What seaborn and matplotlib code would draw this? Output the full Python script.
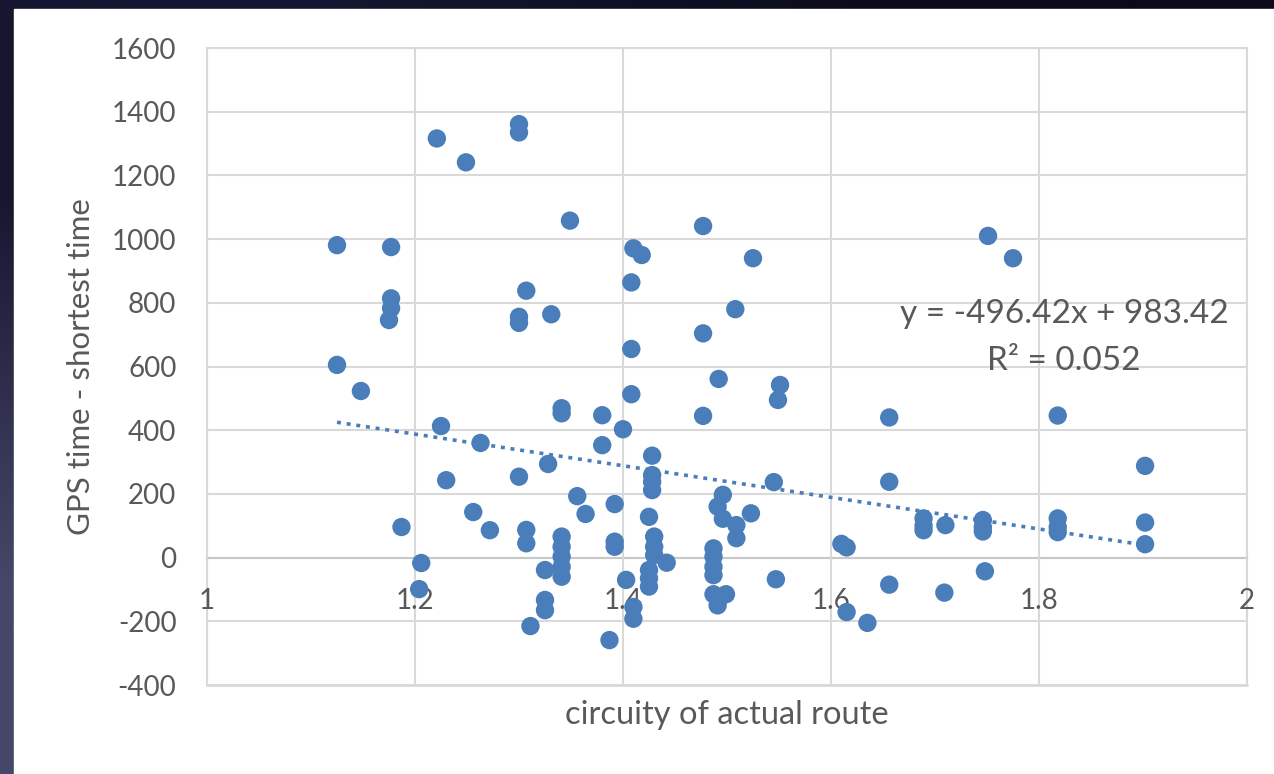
import numpy as np
import matplotlib.pyplot as plt
from matplotlib.patches import Rectangle
import seaborn as sns

# circuity of actual route vs (GPS time - shortest time)
circuity = [
    1.125, 1.125, 1.148, 1.177, 1.177, 1.177, 1.175, 1.187, 1.206, 1.204,
    1.221, 1.249, 1.225, 1.230, 1.256, 1.263, 1.272, 1.300, 1.300, 1.300,
    1.300, 1.307, 1.331, 1.349, 1.300, 1.307, 1.307, 1.328, 1.341, 1.341,
    1.341, 1.341, 1.341, 1.341, 1.341, 1.325, 1.325, 1.325, 1.311, 1.356,
    1.364, 1.380, 1.380, 1.400, 1.408, 1.392, 1.392, 1.392, 1.403, 1.410,
    1.410, 1.387, 1.410, 1.418, 1.408, 1.408, 1.477, 1.525, 1.508, 1.477,
    1.492, 1.551, 1.549, 1.477, 1.428, 1.428, 1.428, 1.428, 1.425, 1.430,
    1.430, 1.430, 1.442, 1.425, 1.425, 1.425, 1.545, 1.496, 1.491, 1.496,
    1.509, 1.523, 1.509, 1.487, 1.487, 1.487, 1.487, 1.487, 1.493, 1.499,
    1.491, 1.547, 1.610, 1.615, 1.615, 1.635, 1.656, 1.656, 1.656, 1.689,
    1.689, 1.689, 1.710, 1.709, 1.746, 1.746, 1.746, 1.748, 1.751, 1.775,
    1.818, 1.818, 1.818, 1.818, 1.902, 1.902, 1.902,
]
time_diff = [
    981, 605, 523, 975, 814, 783, 746, 96, -17, -99,
    1316, 1241, 413, 243, 143, 360, 86, 1361, 1335, 756,
    737, 838, 764, 1058, 254, 87, 45, 294, 469, 453,
    66, 34, 3, -29, -60, -39, -133, -165, -215, 193,
    137, 447, 353, 403, 513, 168, 50, 34, -70, -155,
    -192, -259, 971, 950, 864, 655, 1041, 940, 780, 704,
    561, 542, 495, 445, 320, 259, 238, 212, 128, 66,
    34, 8, -16, -39, -65, -91, 237, 197, 160, 122,
    102, 139, 61, 29, 3, -29, -55, -115, -125, -115,
    -150, -68, 43, 32, -171, -205, 440, 238, -85, 123,
    100, 86, 102, -110, 118, 96, 82, -43, 1010, 940,
    446, 123, 96, 80, 288, 110, 42,
]

# linear trendline as printed on the chart
slope = -496.42
intercept = 983.42
r_squared = 0.052

x_ticks = [1, 1.2, 1.4, 1.6, 1.8, 2]
x_tick_labels = ["1", "1.2", "1.4", "1.6", "1.8", "2"]
y_ticks = [-400, -200, 0, 200, 400, 600, 800, 1000, 1200, 1400, 1600]

blue = "#4a7ebb"
grey_text = "#595959"
grid_col = "#d9d9d9"

sns.set_theme(style="white")
plt.rcParams["font.family"] = ["Lato", "DejaVu Sans"]
plt.rcParams["axes.unicode_minus"] = False

fig = plt.figure(figsize=(12.74, 7.74), dpi=100)

# dark slide background with a soft gradient
bg = fig.add_axes([0, 0, 1, 1])
bg.set_zorder(-5)
grad = np.array([[[22, 22, 48], [10, 10, 26]],
                 [[70, 70, 104], [10, 10, 26]]]) / 255
bg.imshow(grad, extent=[0, 1, 0, 1], aspect="auto", interpolation="bilinear")
bg.axis("off")

# white chart panel
fig.patches.append(Rectangle((14 / 1274, 0), 1, 765 / 774,
                             transform=fig.transFigure, color="white", zorder=-2))

ax = fig.add_axes([207 / 1274, 1 - 685 / 774, 1040 / 1274, 637 / 774])
ax.set_facecolor("white")

sns.scatterplot(x=circuity, y=time_diff, ax=ax, color=blue, s=175,
                linewidth=0, edgecolor="none", zorder=5)

xs = np.array([min(circuity), max(circuity)])
ax.plot(xs, slope * xs + intercept, color=blue, lw=2.6,
        linestyle=(0, (1.1, 1.6)), zorder=4)

ax.set_xlim(1, 2)
ax.set_ylim(-400, 1600)
ax.set_xticks(x_ticks)
ax.set_xticklabels(x_tick_labels)
ax.set_yticks(y_ticks)
ax.grid(True, color=grid_col, lw=1.5)
ax.axhline(y_ticks[0], color=grid_col, lw=2, clip_on=False, zorder=1)

for s in ax.spines.values():
    s.set_color(grid_col)
    s.set_linewidth(1.5)
ax.spines["bottom"].set_position(("data", 0))
ax.spines["bottom"].set_color("#c8c8c8")
ax.xaxis.set_zorder(3)

ax.tick_params(axis="both", length=0, labelsize=20, colors=grey_text)
ax.tick_params(axis="x", pad=22)
ax.tick_params(axis="y", pad=22)

ax.set_xlabel("circuity of actual route", fontsize=23.5, color=grey_text)
ax.xaxis.set_label_coords(0.5, -0.024)
ax.xaxis.label.set_va("top")
ax.set_ylabel("GPS time - shortest time", fontsize=22.5, color=grey_text)
ax.yaxis.set_label_coords(-0.108, 0.5)

ax.text(0.824, 0.545, f"y = {slope}x + {intercept}\nR² = {r_squared}",
        transform=ax.transAxes, ha="center", va="center", fontsize=24,
        color=grey_text, linespacing=1.7, zorder=6)

fig.savefig("out.png", dpi=100)
